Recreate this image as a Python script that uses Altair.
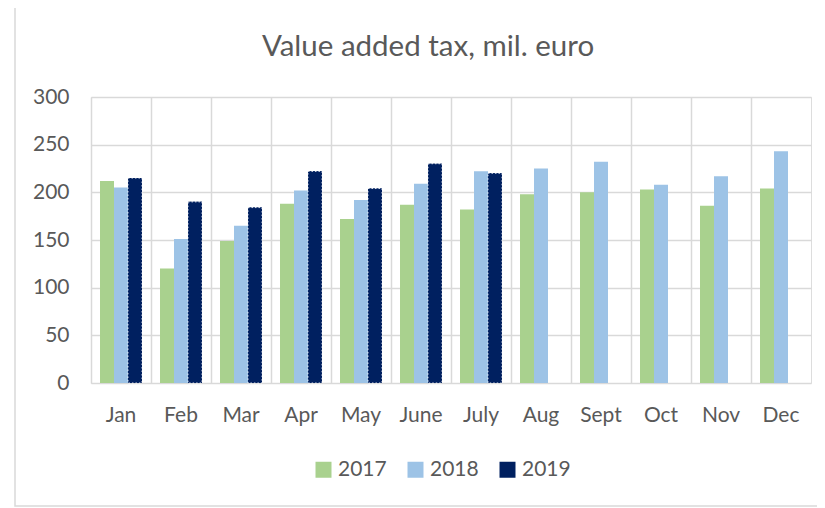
import altair as alt
import pandas as pd

months = ["Jan", "Feb", "Mar", "Apr", "May", "June", "July", "Aug", "Sept", "Oct", "Nov", "Dec"]
years = ["2017", "2018", "2019"]
v2017 = [212, 120, 149, 188, 172, 187, 182, 198, 200, 203, 186, 204]
v2018 = [205, 151, 165, 202, 192, 209, 222, 225, 232, 208, 217, 243]
v2019 = [215, 190, 184, 222, 204, 230, 220]
colors = ["#A9D18E", "#9DC3E6", "#002060"]

rows = []
for series, yr in zip([v2017, v2018, v2019], years):
    for m, v in zip(months, series):
        rows.append({"month": m, "year": yr, "value": v})
df = pd.DataFrame(rows)

FONT = "Lato"
TXT = "#595959"
GRID = "#D9D9D9"

x_enc = alt.X("month:N", sort=months, title=None,
              scale=alt.Scale(paddingInner=0, paddingOuter=0),
              axis=alt.Axis(labelAngle=0, labelFontSize=21, labelColor=TXT, labelFont=FONT,
                            labelPadding=21, ticks=False, domain=False,
                            grid=True, gridColor=GRID, gridWidth=1.5, bandPosition=0))
y_enc = alt.Y("value:Q", title=None,
              scale=alt.Scale(domain=[0, 300], nice=False),
              axis=alt.Axis(values=[0, 50, 100, 150, 200, 250, 300], labelFontSize=21,
                            labelColor=TXT, labelFont=FONT, labelPadding=22, ticks=False,
                            domain=False, grid=True, gridColor=GRID, gridWidth=1.5))
xo_enc = alt.XOffset("year:N", sort=years,
                     scale=alt.Scale(domain=years, paddingInner=0, paddingOuter=0.643))

bars = alt.Chart(df).mark_bar().encode(
    x=x_enc,
    y=y_enc,
    xOffset=xo_enc,
    color=alt.Color("year:N", sort=years,
                    scale=alt.Scale(domain=years, range=colors),
                    legend=alt.Legend(title=None, orient="none", direction="horizontal",
                                      legendX=222, legendY=362, symbolType="square",
                                      symbolSize=256, symbolStrokeWidth=0,
                                      labelFontSize=21, labelColor=TXT, labelFont=FONT,
                                      labelOffset=4, columnPadding=18)),
)

dots = alt.Chart(df).transform_filter(alt.datum.year == "2019").mark_bar(
    fill="#002060", stroke="#FFFFFF", strokeWidth=1, strokeDash=[1.5, 2], strokeOpacity=0.85
).encode(x=alt.X("month:N", sort=months), y=alt.Y("value:Q"), xOffset=xo_enc)

frame = alt.Chart(alt.Data(values=[{}])).mark_rect(
    fill=None, stroke=GRID, strokeWidth=1.5
).encode(x=alt.value(-76), x2=alt.value(745), y=alt.value(-92), y2=alt.value(409))

chart = alt.layer(frame, bars, dots).properties(
    width=720, height=286,
    title=alt.Title("Value added tax, mil. euro", fontSize=29.5, color=TXT, font=FONT,
                    fontWeight="normal", anchor="middle", dx=-23, offset=-58),
    autosize=alt.AutoSizeParams(type="none"),
    padding={"left": 83, "top": 89, "right": 6, "bottom": 125},
).configure_view(stroke=GRID, strokeWidth=1.5).configure(background="white")

chart.save("out.html", embed_options={"renderer": "svg", "actions": False})
